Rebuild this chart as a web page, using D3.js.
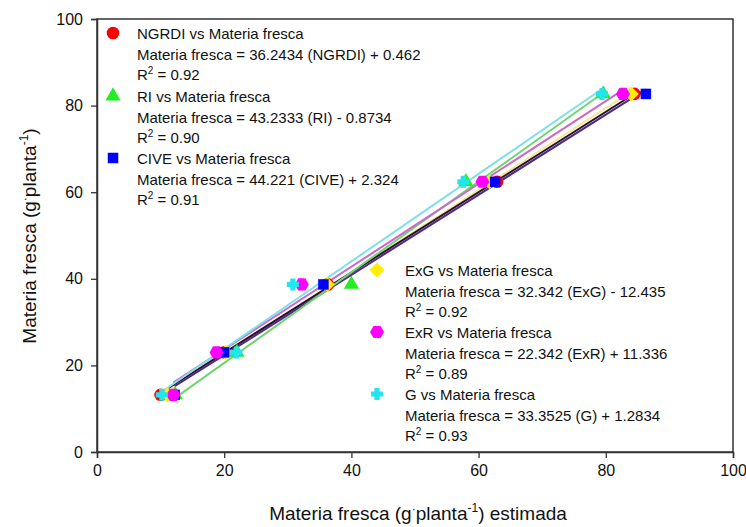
<!DOCTYPE html>
<html><head><meta charset="utf-8">
<script src="https://cdn.jsdelivr.net/npm/d3@7"></script>
<style>body{margin:0;background:#fff}svg{font-family:"Liberation Sans",Arial,sans-serif}</style>
</head><body><svg id="c" width="746" height="527"></svg>
<script>
const observed = [13.2, 23.0, 38.7, 62.4, 82.7];
const ngrdi = [10.0, 20.0, 36.3, 62.9, 84.5];
const ri    = [12.3, 22.0, 40.0, 58.0, 79.6];
const cive  = [12.2, 20.0, 35.6, 62.6, 86.3];
const exg   = [11.1, 20.2, 36.2, 61.7, 84.0];
const exr   = [12.0, 18.8, 32.2, 60.6, 82.7];
const gIdx  = [10.2, 21.9, 30.8, 57.6, 79.4];
const xTicks = [0, 20, 40, 60, 80, 100];
const yTicks = [0, 20, 40, 60, 80, 100];
const seriesNames = ["NGRDI", "RI", "CIVE", "ExG", "ExR", "G"];
const equations = [
  "Materia fresca = 36.2434 (NGRDI) + 0.462",
  "Materia fresca = 43.2333 (RI) - 0.8734",
  "Materia fresca = 44.221 (CIVE) + 2.324",
  "Materia fresca = 32.342 (ExG) - 12.435",
  "Materia fresca = 22.342 (ExR) + 11.336",
  "Materia fresca = 33.3525 (G) + 1.2834"
];
const r2 = ["0.92", "0.90", "0.91", "0.92", "0.89", "0.93"];

const xVals = [ngrdi, ri, cive, exg, exr, gIdx];
const markColors = ["#ff0000", "#22ee22", "#0000ff", "#ffee00", "#ff00ff", "#22e5f0"];
const lineColors = ["#2a1020", "#6fd46f", "#4a2a8c", "#f3e79a", "#cc66cc", "#7ee0e8"];
const symbols = ["circle", "triangle", "square", "diamond", "hex", "plus"];

const svg = d3.select("#c");
const x = d3.scaleLinear().domain([0, 100]).range([97, 733]);
const y = d3.scaleLinear().domain([0, 100]).range([452, 19]);

// frame
svg.append("rect").attr("x", 97).attr("y", 19).attr("width", 636).attr("height", 433)
  .attr("fill", "none").attr("stroke", "#333").attr("stroke-width", 1.5);

const xa = svg.append("g").attr("transform", "translate(0,452)")
  .call(d3.axisBottom(x).tickValues(xTicks).tickSize(6).tickPadding(7));
const ya = svg.append("g").attr("transform", "translate(97,0)")
  .call(d3.axisLeft(y).tickValues(yTicks).tickSize(6).tickPadding(8));
[xa, ya].forEach(a => {
  a.select(".domain").attr("stroke", "#333").attr("stroke-width", 1.5);
  a.selectAll(".tick line").attr("stroke", "#333").attr("stroke-width", 1.3);
  a.selectAll("text").attr("font-size", 16).attr("fill", "#111").attr("font-family", "Liberation Sans, Arial, sans-serif");
});

// regression lines
function fit(xs, ys) {
  const mx = d3.mean(xs), my = d3.mean(ys);
  const b = d3.sum(xs, (v, i) => (v - mx) * (ys[i] - my)) / d3.sum(xs, v => (v - mx) ** 2);
  return { b, a: my - b * mx };
}
const lineOrder = [3, 0, 2, 1, 4, 5];
lineOrder.forEach(k => {
  const xs = xVals[k];
  const f = fit(xs, observed);
  const ext = d3.extent(xs);
  svg.append("path")
    .attr("d", d3.line()(ext.map(v => [x(v), y(f.a + f.b * v)])))
    .attr("stroke", lineColors[k]).attr("stroke-width", 2).attr("fill", "none");
});

function markPath(k) {
  const s = symbols[k];
  if (s === "hex") {
    const r = 7;
    return d3.line()(d3.range(6).map(i => [r * Math.cos(Math.PI / 3 * i), r * Math.sin(Math.PI / 3 * i)])) + "Z";
  }
  if (s === "plus") {
    const a = 6, w = 2.6;
    return `M${-a},${-w}H${-w}V${-a}H${w}V${-w}H${a}V${w}H${w}V${a}H${-w}V${w}H${-a}Z`;
  }
  if (s === "diamond") {
    const r = 7.5;
    return `M0,${-r}L${r},0L0,${r}L${-r},0Z`;
  }
  if (s === "circle") return d3.symbol().type(d3.symbolCircle).size(125)();
  if (s === "triangle") return d3.symbol().type(d3.symbolTriangle).size(100)();
  return d3.symbol().type(d3.symbolSquare).size(110)();
}

// points
[0, 3, 1, 2, 4, 5].forEach(k => {
  svg.append("g").selectAll("path").data(xVals[k]).join("path")
    .attr("d", markPath(k))
    .attr("transform", (d, i) => `translate(${x(d)},${y(observed[i])})`)
    .attr("fill", markColors[k]);
});

// legends
const legendPos = [
  { sx: 113, tx: 137, y0: 34 }, { sx: 113, tx: 137, y0: 97 }, { sx: 113, tx: 137, y0: 159 },
  { sx: 377, tx: 405, y0: 271 }, { sx: 377, tx: 405, y0: 333 }, { sx: 377, tx: 405, y0: 395 }
];
seriesNames.forEach((n, k) => {
  const p = legendPos[k];
  const g = svg.append("g");
  g.append("path").attr("d", markPath(k)).attr("transform", `translate(${p.sx},${p.y0 - 1})`).attr("fill", markColors[k]);
  const t = g.append("text").attr("font-size", 15).attr("fill", "#111");
  t.append("tspan").attr("x", p.tx).attr("y", p.y0 + 5).text(n + " vs Materia fresca");
  t.append("tspan").attr("x", p.tx).attr("y", p.y0 + 25.5).text(equations[k]);
  const r = g.append("text").attr("font-size", 15).attr("fill", "#111").attr("x", p.tx).attr("y", p.y0 + 46);
  r.append("tspan").text("R");
  r.append("tspan").attr("font-size", 10).attr("dy", -6).text("2");
  r.append("tspan").attr("dy", 6).text(" = " + r2[k]);
});

// axis titles
const xt = svg.append("text").attr("x", 418).attr("y", 520).attr("text-anchor", "middle").attr("font-size", 19).attr("fill", "#111");
xt.append("tspan").text("Materia fresca (g");
xt.append("tspan").attr("font-size", 12).attr("dy", -7).text("·");
xt.append("tspan").attr("dy", 7).text("planta");
xt.append("tspan").attr("font-size", 12).attr("dy", -8).text("-1");
xt.append("tspan").attr("dy", 8).text(") estimada");

const yt = svg.append("text").attr("transform", "translate(36,236) rotate(-90)").attr("text-anchor", "middle").attr("font-size", 19).attr("fill", "#111");
yt.append("tspan").text("Materia fresca (g");
yt.append("tspan").attr("font-size", 12).attr("dy", -7).text("·");
yt.append("tspan").attr("dy", 7).text("planta");
yt.append("tspan").attr("font-size", 12).attr("dy", -8).text("-1");
yt.append("tspan").attr("dy", 8).text(")");
</script></body></html>
